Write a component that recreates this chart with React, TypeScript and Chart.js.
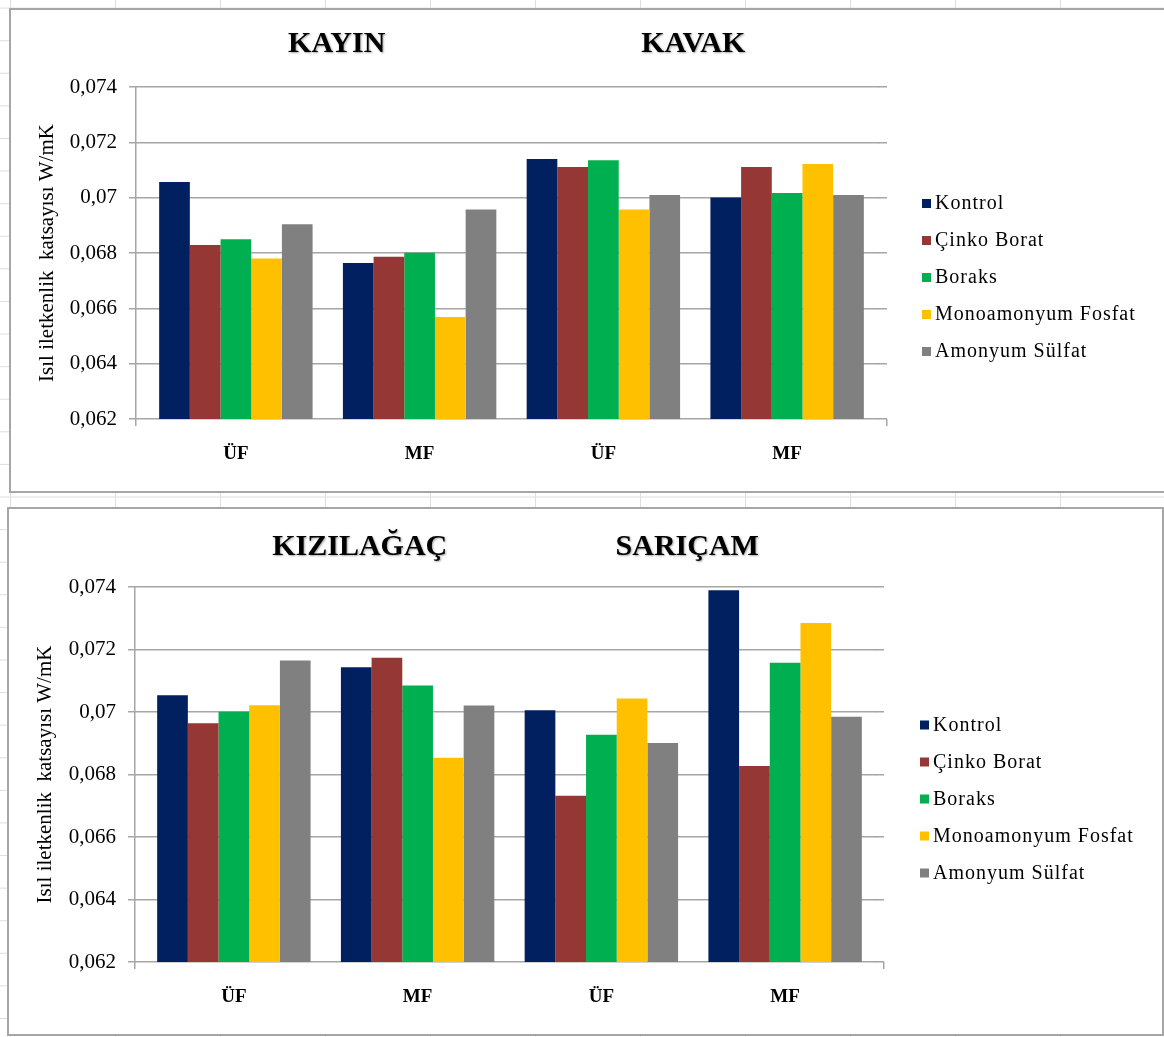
import React, { useEffect, useRef } from 'react';
import { Chart, registerables } from 'chart.js';

Chart.register(...registerables);

// ---------- DATA ----------
const categories = ['ÜF', 'MF', 'ÜF', 'MF'];
const seriesNames = ['Kontrol', 'Çinko Borat', 'Boraks', 'Monoamonyum Fosfat', 'Amonyum Sülfat'];
const seriesColors = ['#002060', '#953735', '#00B050', '#FFC000', '#808080'];
const yTicks = [0.062, 0.064, 0.066, 0.068, 0.07, 0.072, 0.074];
const yAxisTitle = 'Isıl iletkenlik  katsayısı W/mK';

// Top chart: KAYIN (ÜF, MF), KAVAK (ÜF, MF)
const topGroupTitles = ['KAYIN', 'KAVAK'];
const topKontrol = [0.07057, 0.06764, 0.0714, 0.07001];
const topCinkoBorat = [0.06829, 0.06786, 0.07111, 0.07111];
const topBoraks = [0.0685, 0.06801, 0.07135, 0.07017];
const topMAP = [0.0678, 0.06569, 0.06957, 0.07122];
const topAS = [0.06904, 0.06957, 0.0701, 0.0701];

// Bottom chart: KIZILAĞAÇ (ÜF, MF), SARIÇAM (ÜF, MF)
const bottomGroupTitles = ['KIZILAĞAÇ', 'SARIÇAM'];
const bottomKontrol = [0.07054, 0.07143, 0.07006, 0.0739];
const bottomCinkoBorat = [0.06964, 0.07174, 0.06732, 0.06827];
const bottomBoraks = [0.07001, 0.07085, 0.06927, 0.07158];
const bottomMAP = [0.07022, 0.06854, 0.07043, 0.07285];
const bottomAS = [0.07165, 0.07021, 0.06901, 0.06985];

const topSeries = [topKontrol, topCinkoBorat, topBoraks, topMAP, topAS];
const bottomSeries = [bottomKontrol, bottomCinkoBorat, bottomBoraks, bottomMAP, bottomAS];

// ---------- STYLE ----------
const FONT = '"Liberation Serif", "Times New Roman", serif';
const AXIS_GRAY = '#a6a6a6';
const LINE_W = 1.5;

const align = (p: number) => Math.round(p - LINE_W / 2) + LINE_W / 2;

const decorPlugin = {
  id: 'decor',
  beforeDatasetsDraw(chart: any, _args: any, opts: any) {
    const { ctx, chartArea, scales } = chart;
    const y = scales.y;
    const ext = opts.ext;
    ctx.save();
    ctx.strokeStyle = AXIS_GRAY;
    ctx.lineWidth = LINE_W;
    ctx.lineCap = 'butt';
    ctx.beginPath();
    y.ticks.forEach((t: any) => {
      const py = align(y.getPixelForValue(t.value));
      ctx.moveTo(chartArea.right - 1, py);
      ctx.lineTo(chartArea.right + ext, py);
    });
    const ax = align(chartArea.left - ext);
    ctx.moveTo(ax, chartArea.top);
    ctx.lineTo(ax, chartArea.bottom + 7);
    const rx = align(chartArea.right + ext);
    ctx.moveTo(rx, align(chartArea.bottom));
    ctx.lineTo(rx, chartArea.bottom + 7);
    ctx.stroke();
    ctx.restore();
  },
  afterDraw(chart: any, _args: any, opts: any) {
    const { ctx, chartArea, scales } = chart;
    const x = scales.x;
    ctx.save();
    // group titles
    ctx.font = `bold 30px ${FONT}`;
    ctx.textAlign = 'center';
    ctx.textBaseline = 'middle';
    ctx.shadowColor = 'rgba(0,0,0,0.35)';
    ctx.shadowBlur = 2;
    ctx.shadowOffsetX = 1;
    ctx.shadowOffsetY = 1;
    ctx.fillStyle = '#000';
    (opts.titles || []).forEach((t: string, i: number) => {
      const cx = (x.getPixelForValue(2 * i) + x.getPixelForValue(2 * i + 1)) / 2 + (opts.titleShift?.[i] || 0);
      ctx.fillText(t, cx, opts.titleY);
    });
    ctx.shadowColor = 'transparent';
    ctx.shadowBlur = 0;
    ctx.shadowOffsetX = 0;
    ctx.shadowOffsetY = 0;
    // legend
    ctx.font = `20px ${FONT}`;
    try {
      (ctx as any).letterSpacing = '1px';
    } catch (e) {}
    ctx.textAlign = 'left';
    const ds = chart.data.datasets;
    const n = ds.length;
    const spacing = 37;
    const cy = (chartArea.top + chartArea.bottom) / 2 + 25;
    ds.forEach((d: any, i: number) => {
      const yy = cy + (i - (n - 1) / 2) * spacing;
      ctx.fillStyle = d.backgroundColor;
      ctx.fillRect(chartArea.right + 43, yy - 5, 9, 9);
      ctx.fillStyle = '#000';
      ctx.fillText(d.label, chartArea.right + 56, yy);
    });
    ctx.restore();
  },
};

type PanelProps = {
  series: number[][];
  titles: string[];
  titleShift: number[];
  titleY: number;
  width: number;
  height: number;
  ext: number;
  area: { left: number; top: number; right: number; bottom: number };
};

function BarPanel({ series, titles, titleShift, titleY, width, height, ext, area }: PanelProps) {
  const ref = useRef<HTMLCanvasElement>(null);
  useEffect(() => {
    if (!ref.current) return;
    const chart = new Chart(ref.current, {
      type: 'bar',
      data: {
        labels: categories,
        datasets: series.map((vals, i) => ({
          label: seriesNames[i],
          data: vals,
          backgroundColor: seriesColors[i],
          borderWidth: 0,
          categoryPercentage: 0.835,
          barPercentage: 1,
        })),
      },
      options: {
        responsive: false,
        animation: false,
        devicePixelRatio: 1,
        layout: {
          padding: { top: area.top, right: width - area.right, left: 0, bottom: 0 },
        },
        plugins: {
          legend: { display: false },
          tooltip: { enabled: false },
          title: { display: false },
          decor: { titles, titleShift, titleY, ext },
        } as any,
        scales: {
          x: {
            grid: { display: false },
            border: { display: false },
            ticks: {
              color: '#000',
              font: { family: FONT, size: 19, weight: 'bold' },
              padding: 16,
              maxRotation: 0,
            },
            afterFit: (s: any) => {
              s.height = height - area.bottom;
            },
          },
          y: {
            min: yTicks[0],
            max: yTicks[yTicks.length - 1],
            afterBuildTicks: (s: any) => {
              s.ticks = yTicks.map((v) => ({ value: v }));
            },
            ticks: {
              color: '#000',
              font: { family: FONT, size: 21 },
              padding: 12,
              callback: (v: any) => String(+(+v).toFixed(3)).replace('.', ','),
            },
            grid: { color: AXIS_GRAY, lineWidth: LINE_W, tickLength: ext + 7 },
            border: { display: false },
            title: {
              display: true,
              text: yAxisTitle,
              color: '#000',
              font: { family: FONT, size: 21 },
              padding: { top: 24, bottom: 0 },
            },
            afterFit: (s: any) => {
              s.width = area.left;
            },
          },
        },
      },
      plugins: [decorPlugin],
    } as any);
    return () => chart.destroy();
  }, []);
  return <canvas ref={ref} width={width} height={height} style={{ display: 'block' }} />;
}

export default function App() {
  return (
    <div
      style={{
        position: 'absolute',
        left: 0,
        top: 0,
        width: 1164,
        height: 1037,
        overflow: 'hidden',
        backgroundColor: '#fff',
        backgroundImage:
          'linear-gradient(to right, #dedede 1px, transparent 1px), linear-gradient(to bottom, #dedede 1px, transparent 1px)',
        backgroundSize: '105px 32.6px',
        backgroundPosition: '115px 7.6px',
      }}
    >
      <div
        style={{
          position: 'absolute',
          left: 9,
          top: 8,
          width: 1160,
          height: 485,
          boxSizing: 'border-box',
          border: `2px solid ${AXIS_GRAY}`,
          background: '#fff',
        }}
      >
        <BarPanel
          series={topSeries}
          titles={topGroupTitles}
          titleShift={[9, -2]}
          titleY={34}
          width={1156}
          height={481}
          ext={8}
          area={{ left: 133, top: 77, right: 868, bottom: 409 }}
        />
      </div>
      <div
        style={{
          position: 'absolute',
          left: 7,
          top: 507,
          width: 1157,
          height: 529,
          boxSizing: 'border-box',
          border: `2px solid ${AXIS_GRAY}`,
          background: '#fff',
        }}
      >
        <BarPanel
          series={bottomSeries}
          titles={bottomGroupTitles}
          titleShift={[34, -6]}
          titleY={38}
          width={1153}
          height={525}
          ext={7}
          area={{ left: 133, top: 78, right: 868, bottom: 453 }}
        />
      </div>
    </div>
  );
}
